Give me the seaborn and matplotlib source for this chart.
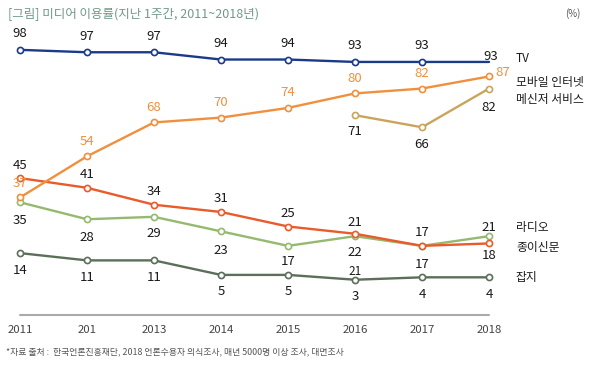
import matplotlib
matplotlib.use("Agg")
import matplotlib.pyplot as plt
import seaborn as sns
import numpy as np

sns.set_theme(style="white")
plt.rcParams['font.family'] = ['Noto Sans CJK KR', 'DejaVu Sans']

# ---- data ----
years = [2011, 2012, 2013, 2014, 2015, 2016, 2017, 2018]
tick_labels = ["2011", "201", "2013", "2014", "2015", "2016", "2017", "2018"]
tv = [98, 97, 97, 94, 94, 93, 93, 93]
mobile = [37, 54, 68, 70, 74, 80, 82, 87]
messenger_years = [2016, 2017, 2018]
messenger = [71, 66, 82]
newspaper = [45, 41, 34, 31, 25, 22, 17, 18]
radio = [35, 28, 29, 23, 17, 21, 17, 21]
magazine = [14, 11, 11, 5, 5, 3, 4, 4]
names_top = ["TV", "모바일 인터넷", "메신저 서비스"]
names_bottom = ["라디오", "종이신문", "잡지"]
title = "[그림] 미디어 이용률(지난 1주간, 2011~2018년)"
unit = "(%)"
source = "*자료 출처 :  한국언론진흥재단, 2018 언론수용자 의식조사, 매년 5000명 이상 조사, 대면조사"

# ---- style ----
c_tv = "#1c3a8a"
c_mob = "#f0903e"
c_msg = "#c9a55b"
c_news = "#e95b2b"
c_radio = "#95b96f"
c_mag = "#5b6f59"

W, H = 600, 367
fig = plt.figure(figsize=(6, 3.67), dpi=100)
ax = fig.add_axes([0, 0, 1, 1])
px_per_year = 67.0
x0px = 20.0
ppu = 2.42
y0px = 80.0  # pixel from bottom for value 0
ax.set_xlim(2011 - x0px / px_per_year, 2011 + (W - x0px) / px_per_year)
ax.set_ylim(-y0px / ppu, (H - y0px) / ppu)
ax.axis("off")

def draw(xs, ys, color, markevery=None, z=2):
    kw = dict(x=xs, y=ys, color=color, marker="o", markersize=4.4,
              markerfacecolor="white", markeredgecolor=color,
              markeredgewidth=1.2, linewidth=1.7, ax=ax, zorder=z)
    if markevery is not None:
        kw["markevery"] = markevery
    sns.lineplot(**kw)

draw(years, radio, c_radio, z=2)
draw(years, magazine, c_mag, z=2)
draw(years, newspaper, c_news, z=3)
draw(messenger_years, messenger, c_msg, z=3)
draw(years, mobile, c_mob, z=4)
draw(years, tv, c_tv, markevery=list(range(7)), z=4)

def labels(xs, ys, offs, color="#1a1a1a", size=9.5):
    for x, y, (dx, dy) in zip(xs, ys, offs):
        ax.annotate(str(y), (x, y), xytext=(dx, dy), textcoords="offset pixels",
                    ha="center", va="center", fontsize=size, color=color, zorder=6)

labels(years, tv, [(0, 16)] * 7 + [(2, 5)])
labels(years, mobile, [(0, 14)] + [(0, 15)] * 6 + [(14, 4)], color=c_mob)
labels(messenger_years, messenger, [(0, -16), (0, -17), (0, -19)])
labels(years, newspaper, [(0, 13)] * 5 + [(0, -19), (0, -19), (0, -12)])
labels(years, radio, [(0, -18), (0, -18), (0, -17), (0, -19), (0, -16),
                      (0, 14), (0, 13), (0, 9)])
labels(years, magazine, [(0, -17)] * 8)
# stray label present in the original graphic
ax.annotate(str(radio[5]), (years[5], magazine[5]), xytext=(0, 8),
            textcoords="offset pixels", ha="center", va="center",
            fontsize=8.5, color="#1a1a1a", zorder=6)

# series names
name_x = years[-1] + 27 / px_per_year
for name, v in zip(names_top, [tv[-1] + 1.5, mobile[-1] - 2.5, mobile[-1] - 9.5]):
    ax.text(name_x, v, name, ha="left", va="center", fontsize=8.5, color="#1a1a1a")
for name, v in zip(names_bottom, [radio[-1] + 3.5, radio[-1] - 4.5, magazine[-1]]):
    ax.text(name_x, v, name, ha="left", va="center", fontsize=8.5, color="#1a1a1a")

# x axis line and ticks
ax.plot([years[0], years[-1]], [-11.5, -11.5], color="#aaaaaa", linewidth=1.5, zorder=1)
for x, t in zip(years, tick_labels):
    ax.text(x, -17.8, t, ha="center", va="center", fontsize=8.2, color="#444444")

# titles and notes
fig.text(8 / W, 1 - 14 / H, title, ha="left", va="center", fontsize=9, color="#6f9a88")
fig.text(573 / W, 1 - 14 / H, unit, ha="center", va="center", fontsize=7, color="#555555")
fig.text(6 / W, 1 - 352 / H, source, ha="left", va="center", fontsize=6.4, color="#555555")

fig.savefig("out.png", dpi=100)
